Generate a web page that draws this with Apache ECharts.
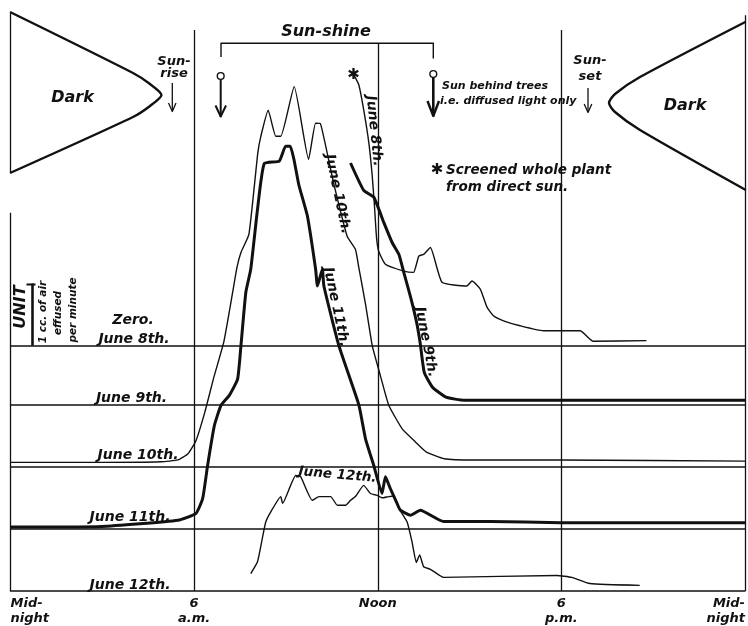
<!DOCTYPE html>
<html><head><meta charset="utf-8">
<script src="https://cdn.jsdelivr.net/npm/echarts@6/dist/echarts.min.js"></script>
<style>html,body{margin:0;padding:0;background:#fff}#c{width:748px;height:626px}</style>
</head><body><div id="c"></div>
<script>
// Hours of the day (0 = midnight) and air effused in cc per minute, above each day's own zero line
const june8Hours  = [11.22, 11.38, 11.54, 11.71, 11.82, 11.89, 11.96, 12.03, 12.25, 12.85, 13.17, 13.34, 13.50, 13.72, 14.10, 14.91, 15.08, 15.35, 15.57, 15.78, 16.11, 16.65, 17.41, 18.61, 19.04, 20.78];
const june8Values = [4.36, 4.20, 3.80, 3.26, 2.73, 2.27, 1.74, 1.52, 1.31, 1.20, 1.18, 1.44, 1.47, 1.58, 1.02, 0.96, 1.04, 0.91, 0.62, 0.48, 0.40, 0.32, 0.24, 0.24, 0.07, 0.08];

const june9Hours  = [11.11, 11.54, 11.87, 12.20, 12.47, 12.69, 12.85, 13.09, 13.28, 13.39, 13.52, 13.79, 14.23, 14.83, 24];
const june9Values = [3.89, 3.45, 3.34, 2.93, 2.61, 2.42, 2.13, 1.70, 1.30, 0.98, 0.52, 0.28, 0.12, 0.07, 0.07];

const june10Hours  = [0, 3.0, 4.92, 5.47, 5.80, 6.06, 6.35, 6.65, 6.97, 7.26, 7.40, 7.53, 7.79, 8.08, 8.18, 8.42, 8.67, 8.83, 9.27, 9.74, 9.97, 10.13, 10.46, 10.57, 11.00, 11.27, 11.38, 11.60, 11.82, 12.09, 12.36, 12.80, 13.23, 13.58, 14.17, 15.15, 17.95, 24];
const june10Values = [0.07, 0.07, 0.08, 0.11, 0.21, 0.42, 0.88, 1.45, 2.01, 2.81, 3.21, 3.45, 3.74, 5.05, 5.32, 5.74, 5.32, 5.32, 6.12, 4.95, 5.53, 5.52, 4.79, 4.54, 3.71, 3.50, 3.21, 2.62, 1.95, 1.46, 0.99, 0.61, 0.40, 0.24, 0.13, 0.11, 0.11, 0.09];

const june11Hours  = [0, 2.97, 5.47, 6.06, 6.28, 6.44, 6.66, 6.88, 7.15, 7.42, 7.53, 7.69, 7.85, 8.07, 8.29, 8.78, 8.99, 9.14, 9.26, 9.42, 9.70, 9.97, 10.03, 10.19, 10.24, 10.73, 11.38, 11.60, 11.87, 12.14, 12.25, 12.41, 12.63, 12.74, 13.07, 13.39, 14.15, 15.67, 17.98, 24];
const june11Values = [0.03, 0.04, 0.14, 0.25, 0.49, 1.02, 1.66, 1.99, 2.15, 2.41, 2.95, 3.81, 4.18, 5.14, 5.88, 5.92, 6.16, 6.16, 5.95, 5.54, 5.04, 4.18, 3.91, 4.18, 3.91, 2.95, 2.00, 1.45, 1.02, 0.57, 0.84, 0.65, 0.41, 0.30, 0.22, 0.30, 0.12, 0.12, 0.10, 0.10];

const june12Hours  = [7.85, 8.07, 8.23, 8.34, 8.50, 8.83, 8.89, 9.32, 9.48, 9.86, 10.08, 10.46, 10.68, 10.95, 11.11, 11.27, 11.54, 11.76, 11.98, 12.14, 12.36, 12.52, 12.69, 12.96, 13.12, 13.26, 13.37, 13.50, 13.72, 14.15, 17.85, 18.34, 18.93, 20.56];
const june12Values = [0.28, 0.47, 0.85, 1.11, 1.27, 1.52, 1.41, 1.86, 1.84, 1.46, 1.52, 1.52, 1.38, 1.38, 1.46, 1.52, 1.70, 1.57, 1.54, 1.50, 1.52, 1.53, 1.33, 1.11, 0.79, 0.46, 0.58, 0.39, 0.35, 0.22, 0.25, 0.22, 0.12, 0.09];

// Each day's zero line on the shared scale (1 unit = 1 cc of air effused per minute)
const dayNames = ['June 8th.', 'June 9th.', 'June 10th.', 'June 11th.', 'June 12th.'];
const dayZeros = [3.95, 3.0, 2.0, 1.0, 0];
const dayThick = [false, true, false, true, false];

const xTickHours  = [0, 6, 12, 18, 24];
const xTickLabels = ['Mid-\nnight', '6\na.m.', 'Noon', '6\np.m.', 'Mid-\nnight'];

const INK = '#111';
const FONT = '"DejaVu Sans"';
const chart = echarts.init(document.getElementById('c'), null, {renderer: 'canvas'});

const dayHours  = [june8Hours, june9Hours, june10Hours, june11Hours, june12Hours];
const dayValues = [june8Values, june9Values, june10Values, june11Values, june12Values];

const frameStyle = {color: INK, width: 1.3, type: 'solid'};
const frameLines = [
  [{coord: [0, 6.09]}, {coord: [0, 0]}],
  [{coord: [0, 9.3]}, {coord: [0, 6.74]}],
  [{coord: [6, 9.03]}, {coord: [6, 0]}],
  [{coord: [12, 8.82]}, {coord: [12, 0]}],
  [{coord: [18, 9.03]}, {coord: [18, 0]}],
  [{coord: [24, 9.27]}, {coord: [24, 0]}],
  // unit bar: exactly one unit tall, standing on the June 8th zero line
  [{coord: [0.70, dayZeros[0]], lineStyle: {width: 2.6}}, {coord: [0.70, dayZeros[0] + 1]}]
].concat(dayZeros.slice(0, 4).map(z => ({yAxis: z, lineStyle: {width: 1.5}})));

const series = dayNames.map((name, i) => ({
  name, type: 'line', silent: true, symbol: 'none', smooth: 0.15,
  lineStyle: {color: INK, width: dayThick[i] ? 3 : 1.4, join: 'round'},
  data: dayHours[i].map((h, k) => [h, dayValues[i][k] + dayZeros[i]]),
  z: 3
}));
series.push({
  type: 'line', silent: true, data: [], symbol: 'none',
  markLine: {silent: true, symbol: ['none', 'none'], label: {show: false},
    lineStyle: frameStyle, emphasis: {disabled: true}, animation: false, data: frameLines}
});

function T(text, x, y, size, o) {
  o = o || {};
  return {type: 'text', x, y, rotation: (o.rot || 0) * Math.PI / 180, z: 20,
    style: {text, font: `italic bold ${size}px ${FONT}`, fill: INK,
      align: o.align || 'center', verticalAlign: 'middle', lineHeight: o.lh || size * 1.2}};
}
function L(x1, y1, x2, y2, w) {
  return {type: 'line', z: 20, shape: {x1, y1, x2, y2}, style: {stroke: INK, lineWidth: w || 1.3}};
}
function P(points, w, smooth) {
  return {type: 'polyline', z: 20, shape: {points, smooth: smooth || 0}, style: {stroke: INK, lineWidth: w || 1.3, fill: null, lineJoin: 'round'}};
}
function C(cx, cy, r) {
  return {type: 'circle', z: 21, shape: {cx, cy, r}, style: {stroke: INK, lineWidth: 1.4, fill: '#fff'}};
}

const graphics = [
  // Dark (night) shapes
  P([[10, 12], [133, 73], [150, 84], [161.5, 95], [150, 106], [133, 117], [10, 173]], 2.4, 0.25),
  P([[745.8, 21.7], [640, 77], [615, 94], [609, 103], [615, 112], [640, 130], [745.8, 190]], 2.4, 0.25),
  T('Dark', 72.5, 98, 16), T('Dark', 685, 106, 16),
  // sunrise / sunset
  T('Sun-\nrise', 174, 67.5, 13, {lh: 12}),
  L(172.3, 83, 172.3, 111), P([[168.5, 103], [172.3, 111.5], [176, 103]], 1.3),
  T('Sun-\nset', 590, 68.5, 13, {lh: 15.5}),
  L(588, 88, 588, 112), P([[584.2, 104], [588, 112.5], [591.8, 104]], 1.3),
  // sun-shine bracket
  T('Sun-shine', 326, 31.5, 16),
  P([[221, 57], [221, 43.3], [433.3, 43.3], [433.3, 58.5]], 1.4),
  L(220.7, 79, 220.7, 117, 2), P([[215.5, 105.5], [220.7, 116.5], [226, 105.5]], 2), C(220.7, 76, 3.4),
  L(433.3, 77, 433.3, 116, 2.6), P([[427.5, 101], [433.3, 116], [439, 101]], 2.4), C(433.3, 74, 3.4),
  T('Sun behind trees', 442, 86, 11, {align: 'left'}),
  T('i.e. diffused light only', 440, 101.5, 11, {align: 'left'}),
  T('\u2731', 437, 170, 15),
  T('Screened whole plant\nfrom direct sun.', 446, 178.5, 13.5, {align: 'left', lh: 17}),
  // starting star of the June 8th curve
  T('\u2731', 353.5, 75, 15),
  // curve labels
  T('June 8th.', 374, 131, 14, {rot: -84}),
  T('June 10th.', 337.5, 194, 14, {rot: -78}),
  T('June 11th.', 336, 307, 14, {rot: -78}),
  T('June 9th.', 426, 342, 14, {rot: -79}),
  T('June 12th.', 337.5, 475, 13.5, {rot: -5}),
  // zero-line labels
  T('Zero.', 133, 320, 14), T('June 8th.', 134, 339.3, 14),
  T('June 9th.', 131.5, 398.3, 14), T('June 10th.', 138, 455, 14),
  T('June 11th.', 130, 517.3, 14), T('June 12th.', 130, 585, 14),
  // unit legend
  L(26.5, 284.5, 35.5, 284.5, 2),
  T('UNIT', 20.5, 307, 16, {rot: 90}),
  T('1 cc. of air', 43.3, 312, 10.5, {rot: 90}),
  T('effused', 58.3, 313, 10.5, {rot: 90}),
  T('per minute', 73.3, 310, 10.5, {rot: 90})
];

chart.setOption({
  animation: false,
  backgroundColor: '#fff',
  grid: {left: 10.5, right: 2.2, top: 13.3, bottom: 33.3, containLabel: false},
  xAxis: {
    type: 'value', min: 0, max: 24, interval: 6,
    axisLine: {show: true, lineStyle: {color: INK, width: 1.5}},
    axisTick: {show: false}, splitLine: {show: false},
    axisLabel: {
      formatter: v => xTickLabels[xTickHours.indexOf(v)] || '',
      color: INK, fontFamily: FONT, fontStyle: 'italic', fontWeight: 'bold',
      fontSize: 13, lineHeight: 15, margin: 5,
      alignMinLabel: 'left', alignMaxLabel: 'right'
    }
  },
  yAxis: {type: 'value', min: 0, max: 9.3, show: false},
  series,
  graphic: {elements: graphics}
});
</script></body></html>
